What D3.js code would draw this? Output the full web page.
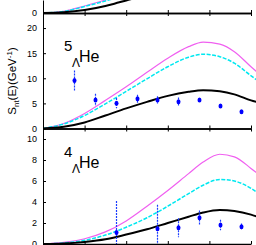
<!DOCTYPE html>
<html>
<head>
<meta charset="utf-8">
<script src="https://cdn.jsdelivr.net/npm/d3@7"></script>
<style>
  body { margin: 0; background: #fff; }
  svg { display: block; }
  .tick text { font-family: "Liberation Sans Narrow", "Arial Narrow", "Liberation Sans", sans-serif; font-size: 9px; fill: #000; }
  .lbl { font-family: "Liberation Sans", Arial, sans-serif; fill: #000; }
</style>
</head>
<body>
<svg id="chart"></svg>
<script>
// x positions of the curve samples (same grid for every curve)
const curveX = [0, 10, 20, 30, 40, 50, 60, 70, 77, 85, 92, 100, 105, 110];

// top panel (only its bottom edge is visible)
const topX = [0, 10, 20, 30, 35, 40, 45];
const topBlack   = [0, 0.15, 0.6, 1.4, 1.95, 2.5, 3.1];
const topCyan    = [0, 0.3, 1.3, 2.4, 3.0, 3.6, 4.2];
const topMagenta = [0, 0.35, 1.4, 2.6, 3.2, 3.8, 4.4];

// 5-Lambda-He
const he5Black   = [0, 0.35, 1.2, 2.6, 4.0, 5.3, 6.5, 7.3, 7.6, 7.4, 6.8, 5.6, 5.0, 4.3];
const he5Cyan    = [0, 0.9, 2.6, 4.9, 7.4, 9.9, 12.3, 14.2, 14.8, 14.3, 13.0, 10.5, 9.0, 7.6];
const he5Magenta = [0, 1.0, 3.0, 5.6, 8.3, 11.2, 14.0, 16.3, 17.2, 16.8, 15.3, 12.3, 10.5, 8.8];
const he5PtX   = [15, 25, 35, 45, 55, 65, 75, 85, 95];
const he5PtY   = [9.55, 5.7, 5.05, 5.9, 5.7, 5.35, 5.7, 4.5, 3.35];
const he5PtErr = [2.0, 1.2, 1.0, 0.8, 0.7, 0.8, 0.3, 0.2, 0.2];

// 4-Lambda-He
const he4Black   = [0, 0.05, 0.2, 0.45, 0.9, 1.4, 2.0, 2.6, 3.0, 3.24, 3.15, 2.8, 2.45, 2.1];
const he4Cyan    = [0, 0.1, 0.35, 0.85, 1.6, 2.5, 3.6, 4.8, 5.6, 6.15, 6.0, 5.3, 4.6, 3.9];
const he4Magenta = [0, 0.15, 0.5, 1.15, 2.2, 3.6, 5.1, 6.7, 7.8, 8.55, 8.3, 7.2, 6.4, 5.5];
const he4PtX   = [35, 55, 65, 75, 85, 95];
const he4PtY   = [1.1, 1.45, 1.55, 2.5, 1.8, 1.65];
const he4PtErr = [3.0, 2.3, 0.9, 0.7, 0.5, 0.3];

const xTicks = [0, 20, 40, 60, 80, 100, 120];

const width = 256, height = 245;
const left = 43;

const svg = d3.select('#chart').attr('width', width).attr('height', height);

const xScale = d3.scaleLinear().domain([0, 100]).range([left, 251]);

const panels = [
  {id: 'top', top: 0, bottom: 13, yMax: 2.6, ticks: [0],
   xs: topX, black: topBlack, cyan: topCyan, magenta: topMagenta, px: [], py: [], pe: []},
  {id: 'he5', top: 13, bottom: 128.5, yMax: 23, ticks: [0, 5, 10, 15, 20],
   xs: curveX, black: he5Black, cyan: he5Cyan, magenta: he5Magenta,
   px: he5PtX, py: he5PtY, pe: he5PtErr, mass: '5'},
  {id: 'he4', top: 128.5, bottom: 244, yMax: 11, ticks: [0, 2, 4, 6, 8, 10],
   xs: curveX, black: he4Black, cyan: he4Cyan, magenta: he4Magenta,
   px: he4PtX, py: he4PtY, pe: he4PtErr, mass: '4'}
];

panels.forEach(p => {
  const yScale = d3.scaleLinear().domain([0, p.yMax]).range([p.bottom, p.top]);

  svg.append('clipPath').attr('id', 'clip-' + p.id)
    .append('rect')
    .attr('x', left).attr('y', p.top)
    .attr('width', width - left).attr('height', p.bottom - p.top);

  const g = svg.append('g').attr('clip-path', 'url(#clip-' + p.id + ')');

  const line = d3.line()
    .x((d, i) => xScale(p.xs[i]))
    .y(d => yScale(d))
    .curve(d3.curveMonotoneX);

  g.append('path').attr('d', line(p.magenta))
    .attr('fill', 'none').attr('stroke', '#f060f0').attr('stroke-width', 1.2);
  g.append('path').attr('d', line(p.cyan))
    .attr('fill', 'none').attr('stroke', '#00e8f0').attr('stroke-width', 1.5)
    .attr('stroke-dasharray', '4,1.5');
  g.append('path').attr('d', line(p.black))
    .attr('fill', 'none').attr('stroke', '#000').attr('stroke-width', 2);

  // error bars, snapped to pixel centres so the dots stay blue
  g.selectAll('line.err')
    .data(p.px)
    .enter()
    .append('line')
    .attr('class', 'err')
    .attr('x1', d => Math.round(xScale(d)) + 0.5)
    .attr('x2', d => Math.round(xScale(d)) + 0.5)
    .attr('y1', (d, i) => yScale(p.py[i] + p.pe[i]))
    .attr('y2', (d, i) => yScale(p.py[i] - p.pe[i]))
    .attr('stroke', '#1a3cff').attr('stroke-width', 1.2)
    .attr('stroke-dasharray', '2,1');

  g.selectAll('ellipse')
    .data(p.px)
    .enter()
    .append('ellipse')
    .attr('cx', d => Math.round(xScale(d)) + 0.5)
    .attr('cy', (d, i) => yScale(p.py[i]))
    .attr('rx', 2).attr('ry', 2.5)
    .attr('fill', '#0000ff');

  // y axis
  svg.append('g')
    .attr('transform', 'translate(' + left + ',0)')
    .call(d3.axisLeft(yScale).tickValues(p.ticks).tickFormat(d3.format('d'))
      .tickSizeInner(-3).tickSizeOuter(0).tickPadding(6))
    .call(a => a.select('.domain').attr('stroke', '#000'));

  // x ticks at panel bottom (pointing up into the panel)
  svg.append('g')
    .attr('transform', 'translate(0,' + p.bottom + ')')
    .call(d3.axisTop(xScale).tickValues(xTicks).tickSize(3).tickSizeOuter(0).tickFormat(''))
    .call(a => a.select('.domain').attr('stroke-width', 1.3));
  // mirror ticks at panel top
  if (p.id !== 'top') {
    svg.append('g')
      .attr('transform', 'translate(0,' + p.top + ')')
      .call(d3.axisBottom(xScale).tickValues(xTicks).tickSize(3).tickSizeOuter(0).tickFormat(''))
      .call(a => a.select('.domain').attr('stroke-width', 1.3));
  }

  // nucleus label
  if (p.mass) {
    const base = p.id === 'he5' ? 61.7 : 168.3;
    const lab = svg.append('g').attr('class', 'lbl');
    lab.append('text').attr('x', 64).attr('y', base - 11).attr('font-size', 15).text(p.mass);
    lab.append('text').attr('x', 72).attr('y', base + 5).attr('font-size', 12).text('Λ');
    lab.append('text').attr('x', 79).attr('y', base).attr('font-size', 16).text('He');
  }
});

// y axis title
const title = svg.append('text')
  .attr('class', 'lbl')
  .attr('font-size', 11.5)
  .attr('text-anchor', 'middle')
  .attr('transform', 'translate(16,81) rotate(-90)');
title.append('tspan').text('S');
title.append('tspan').attr('font-size', 8).attr('dy', 2.5).text('nt');
title.append('tspan').attr('dy', -2.5).text('(E)(GeV');
title.append('tspan').attr('font-size', 8).attr('dy', -4).text('-1');
title.append('tspan').attr('dy', 4).text(')');
</script>
</body>
</html>
